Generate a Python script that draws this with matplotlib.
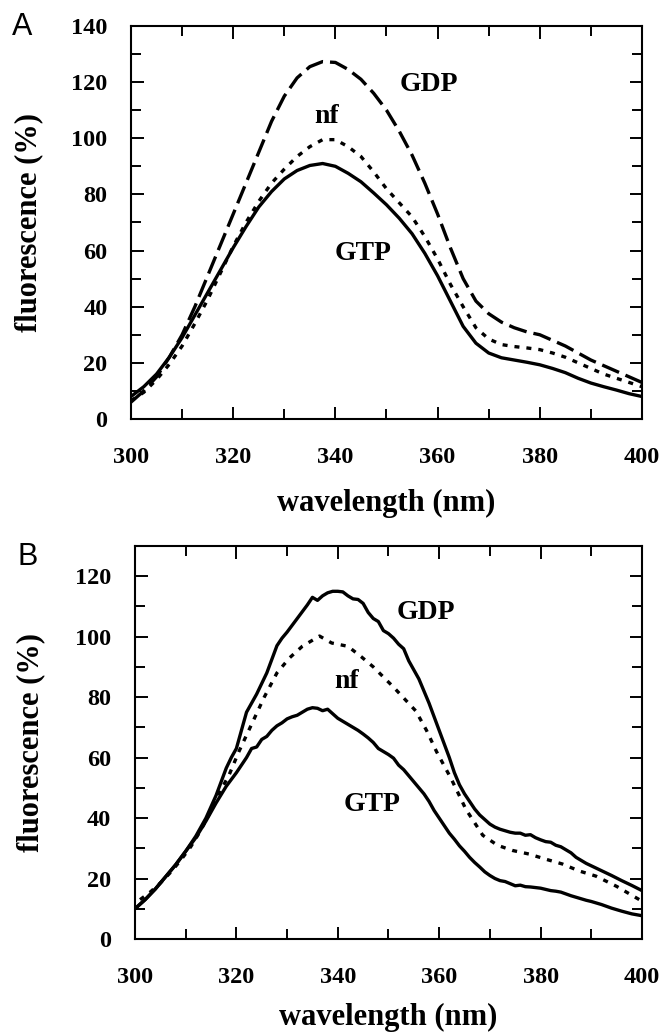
import matplotlib
matplotlib.use('Agg')
import matplotlib.pyplot as plt
from matplotlib.ticker import MultipleLocator

# ---- panel A data ----
a_x = [300, 302.5, 305, 307.5, 310, 312.5, 315, 317.5, 320, 322.5, 325, 327.5, 330, 332.5,
       335, 337.5, 340, 342.5, 345, 347.5, 350, 352.5, 355, 357.5, 360, 362.5, 365, 367.5,
       370, 372.5, 375, 377.5, 380, 382.5, 385, 387.5, 390, 392.5, 395, 397.5, 400]
a_gtp = [8, 11.5, 16, 22, 29, 37, 45, 53, 61, 68.5, 75.5, 81, 85.5, 88.5,
         90.3, 91, 90, 87.5, 84.5, 80.5, 76.3, 71.5, 66, 59, 51, 42, 33, 27,
         23.5, 21.8, 21, 20.2, 19.3, 18, 16.5, 14.5, 12.8, 11.5, 10.3, 9, 8]
a_nf = [6.5, 9.5, 14, 19.5, 26, 34, 42.5, 52, 61.5, 70, 77.5, 84, 89, 93.5,
        97, 99.5, 99.5, 97, 93.5, 88, 82, 77, 72, 65, 57, 48, 40, 32.5,
        28.5, 26.5, 25.8, 25.3, 24.7, 23.5, 22, 20, 18, 16, 14.5, 13, 11.5]
a_gdp = [6, 10, 15, 22, 30, 40, 51, 62, 73, 84, 95, 106, 115, 121.5,
         125.5, 127.3, 127, 124.5, 121, 116, 110, 102.5, 94, 84, 73, 61, 50, 42,
         37.5, 34.5, 32.5, 31, 30, 28, 26, 23.5, 21, 19, 17, 15, 13]

# ---- panel B data ----
b_gdp_x = [300, 302, 304, 306, 308, 310, 312, 314, 316, 318, 319, 320, 321, 322, 324, 326,
           328, 329, 330, 332, 334, 335, 336, 337, 338, 339, 340, 341, 342, 343, 344, 345,
           346, 347, 348, 349, 350, 351, 352, 353, 354, 355, 356, 357, 358, 359, 360, 361,
           362, 363, 364, 365, 366, 367, 368, 369, 370, 371, 372, 373, 374, 375, 376, 377,
           378, 379, 380, 381, 382, 383, 384, 385, 386, 387, 388, 389, 390, 392, 394, 396,
           398, 400]
b_gdp = [10, 13, 16.5, 20.5, 24.5, 29, 34, 40, 47.5, 56.5, 60, 63, 69, 75, 81, 88,
         97, 99.5, 101.5, 106, 110.5, 113, 112, 113.5, 114.5, 115, 115, 114.8, 113.5, 112.5, 112.3, 111,
         108, 106, 105, 102, 101, 99.5, 97.5, 96, 92, 89, 86, 82, 78, 73.5, 69, 64.5,
         60, 55, 51, 48, 45.5, 43, 41, 39.5, 38, 37, 36.3, 35.8, 35.3, 35, 35, 34.3,
         34.5, 33.5, 32.8, 32.2, 32, 31, 30.5, 29.5, 28.5, 27, 26, 25, 24.2, 22.6, 21, 19.3,
         17.7, 16]

b_nf_x = [301, 303, 305, 307, 309, 311, 313, 315, 316.5, 318.5, 320.5, 323, 325.5, 328, 330.5,
          333, 336.4, 338.8, 342, 344.6, 347, 351, 355.4, 357.5, 359.5, 362.4, 365.3, 368.6,
          371.5, 374.4, 377.7, 381, 384.3, 387.6, 390.9, 395, 400]
b_nf = [13, 15.5, 18.5, 22, 26, 30.5, 36, 42.5, 48, 54, 62, 71, 80, 88, 93,
        96.8, 100.2, 97.9, 96.8, 93.4, 90, 83.3, 75.4, 69, 61.9, 52.9, 42.8, 34.3,
        31, 29.3, 28.1, 26.4, 24.8, 22.5, 20.8, 17.4, 12.5]

b_gtp_x = [300, 302, 304, 306, 308, 310, 312, 314, 316, 318, 320, 321, 322, 323, 324, 325,
           326, 327, 328, 329, 330, 331, 332, 333, 334, 335, 336, 337, 338, 339, 340, 341,
           342, 343, 344, 345, 346, 347, 348, 349, 350, 351, 352, 353, 354, 355, 356, 357,
           358, 359, 360, 361, 362, 363, 364, 365, 366, 367, 368, 369, 370, 371, 372, 373,
           374, 375, 376, 377, 378, 379, 380, 381, 382, 383, 384, 385, 386, 387, 388, 389,
           390, 392, 394, 396, 398, 400]
b_gtp = [10, 13, 16.5, 20.5, 24.5, 29, 33.5, 39, 45, 50.5, 55, 57.5, 60, 63, 63.5, 66,
         67, 69, 70.5, 71.5, 72.8, 73.5, 74, 75, 76, 76.5, 76.3, 75.5, 76, 74.5, 73, 72,
         71, 70, 69, 67.8, 66.5, 65, 63, 62, 61, 59.8, 57.5, 56, 54, 52, 50, 48,
         45.5, 42.5, 40, 37.5, 35, 33, 30.8, 29, 27, 25.3, 23.8, 22.2, 21, 20, 19.3, 19,
         18.3, 17.6, 17.8, 17.3, 17.2, 17, 16.8, 16.4, 16, 15.8, 15.5, 14.9, 14.3, 13.8, 13.3, 12.8,
         12.4, 11.4, 10.2, 9.2, 8.3, 7.7]

x_ticks = [300, 320, 340, 360, 380, 400]

serif = 'Liberation Serif'
plt.rcParams['font.family'] = serif
plt.rcParams['font.weight'] = 'bold'

fig = plt.figure(figsize=(6.6, 10.34), dpi=100)
axA = fig.add_axes([0.1985, 0.5948, 0.7742, 0.3801])
axB = fig.add_axes([0.2045, 0.0919, 0.7682, 0.3801])

dash = (0, (5.5, 2.1))
dots = (0, (1.5, 2.1))
lw = 2.4

axA.plot(a_x, a_gdp, color='black', lw=lw, linestyle=dash)
axA.plot(a_x, a_nf, color='black', lw=lw, linestyle=dots)
axA.plot(a_x, a_gtp, color='black', lw=lw)

axB.plot(b_gdp_x, b_gdp, color='black', lw=lw)
axB.plot(b_nf_x, b_nf, color='black', lw=lw, linestyle=dots)
axB.plot(b_gtp_x, b_gtp, color='black', lw=lw)

for ax, ytop in [(axA, 140), (axB, 130)]:
    ax.set_xlim(300, 400)
    ax.set_ylim(0, ytop)
    ax.set_xticks(x_ticks)
    ax.xaxis.set_minor_locator(MultipleLocator(10))
    ax.yaxis.set_major_locator(MultipleLocator(20))
    ax.yaxis.set_minor_locator(MultipleLocator(10))
    ax.tick_params(which='both', direction='in', top=True, right=True, width=1.4, color='black')
    ax.tick_params(which='major', length=9)
    ax.tick_params(which='minor', length=7.5)
    ax.tick_params(axis='y', which='major', pad=17, labelsize=17.5)
    ax.tick_params(axis='x', which='major', pad=20, labelsize=17.5)
    for s in ax.spines.values():
        s.set_linewidth(1.5)
    ax.set_xlabel('wavelength (nm)', fontsize=22, fontweight='bold')
    ax.set_ylabel('fluorescence (%)', fontsize=22, fontweight='bold')
    for lab in ax.get_xticklabels() + ax.get_yticklabels():
        lab.set_fontweight('bold')

axA.xaxis.set_label_coords(0.5, -0.178)
axA.yaxis.set_label_coords(-0.172, 0.5)
axB.xaxis.set_label_coords(0.5, -0.162)
axB.yaxis.set_label_coords(-0.178, 0.5)

ann = dict(fontsize=20, fontweight='bold', ha='center', va='center')
axA.text(358.2, 119, 'GDP', **ann)
axA.text(338.3, 107.7, 'nf', **ann)
axA.text(345.4, 59, 'GTP', **ann)
axB.text(357.4, 108, 'GDP', **ann)
axB.text(341.7, 85, 'nf', **ann)
axB.text(346.7, 44.5, 'GTP', **ann)

fig.text(22 / 660, 1 - 27 / 1034, 'A', fontsize=22, fontweight='normal',
         family='Liberation Sans', ha='center', va='center')
fig.text(28 / 660, 1 - 557 / 1034, 'B', fontsize=22, fontweight='normal',
         family='Liberation Sans', ha='center', va='center')

fig.savefig('out.png', dpi=100)
